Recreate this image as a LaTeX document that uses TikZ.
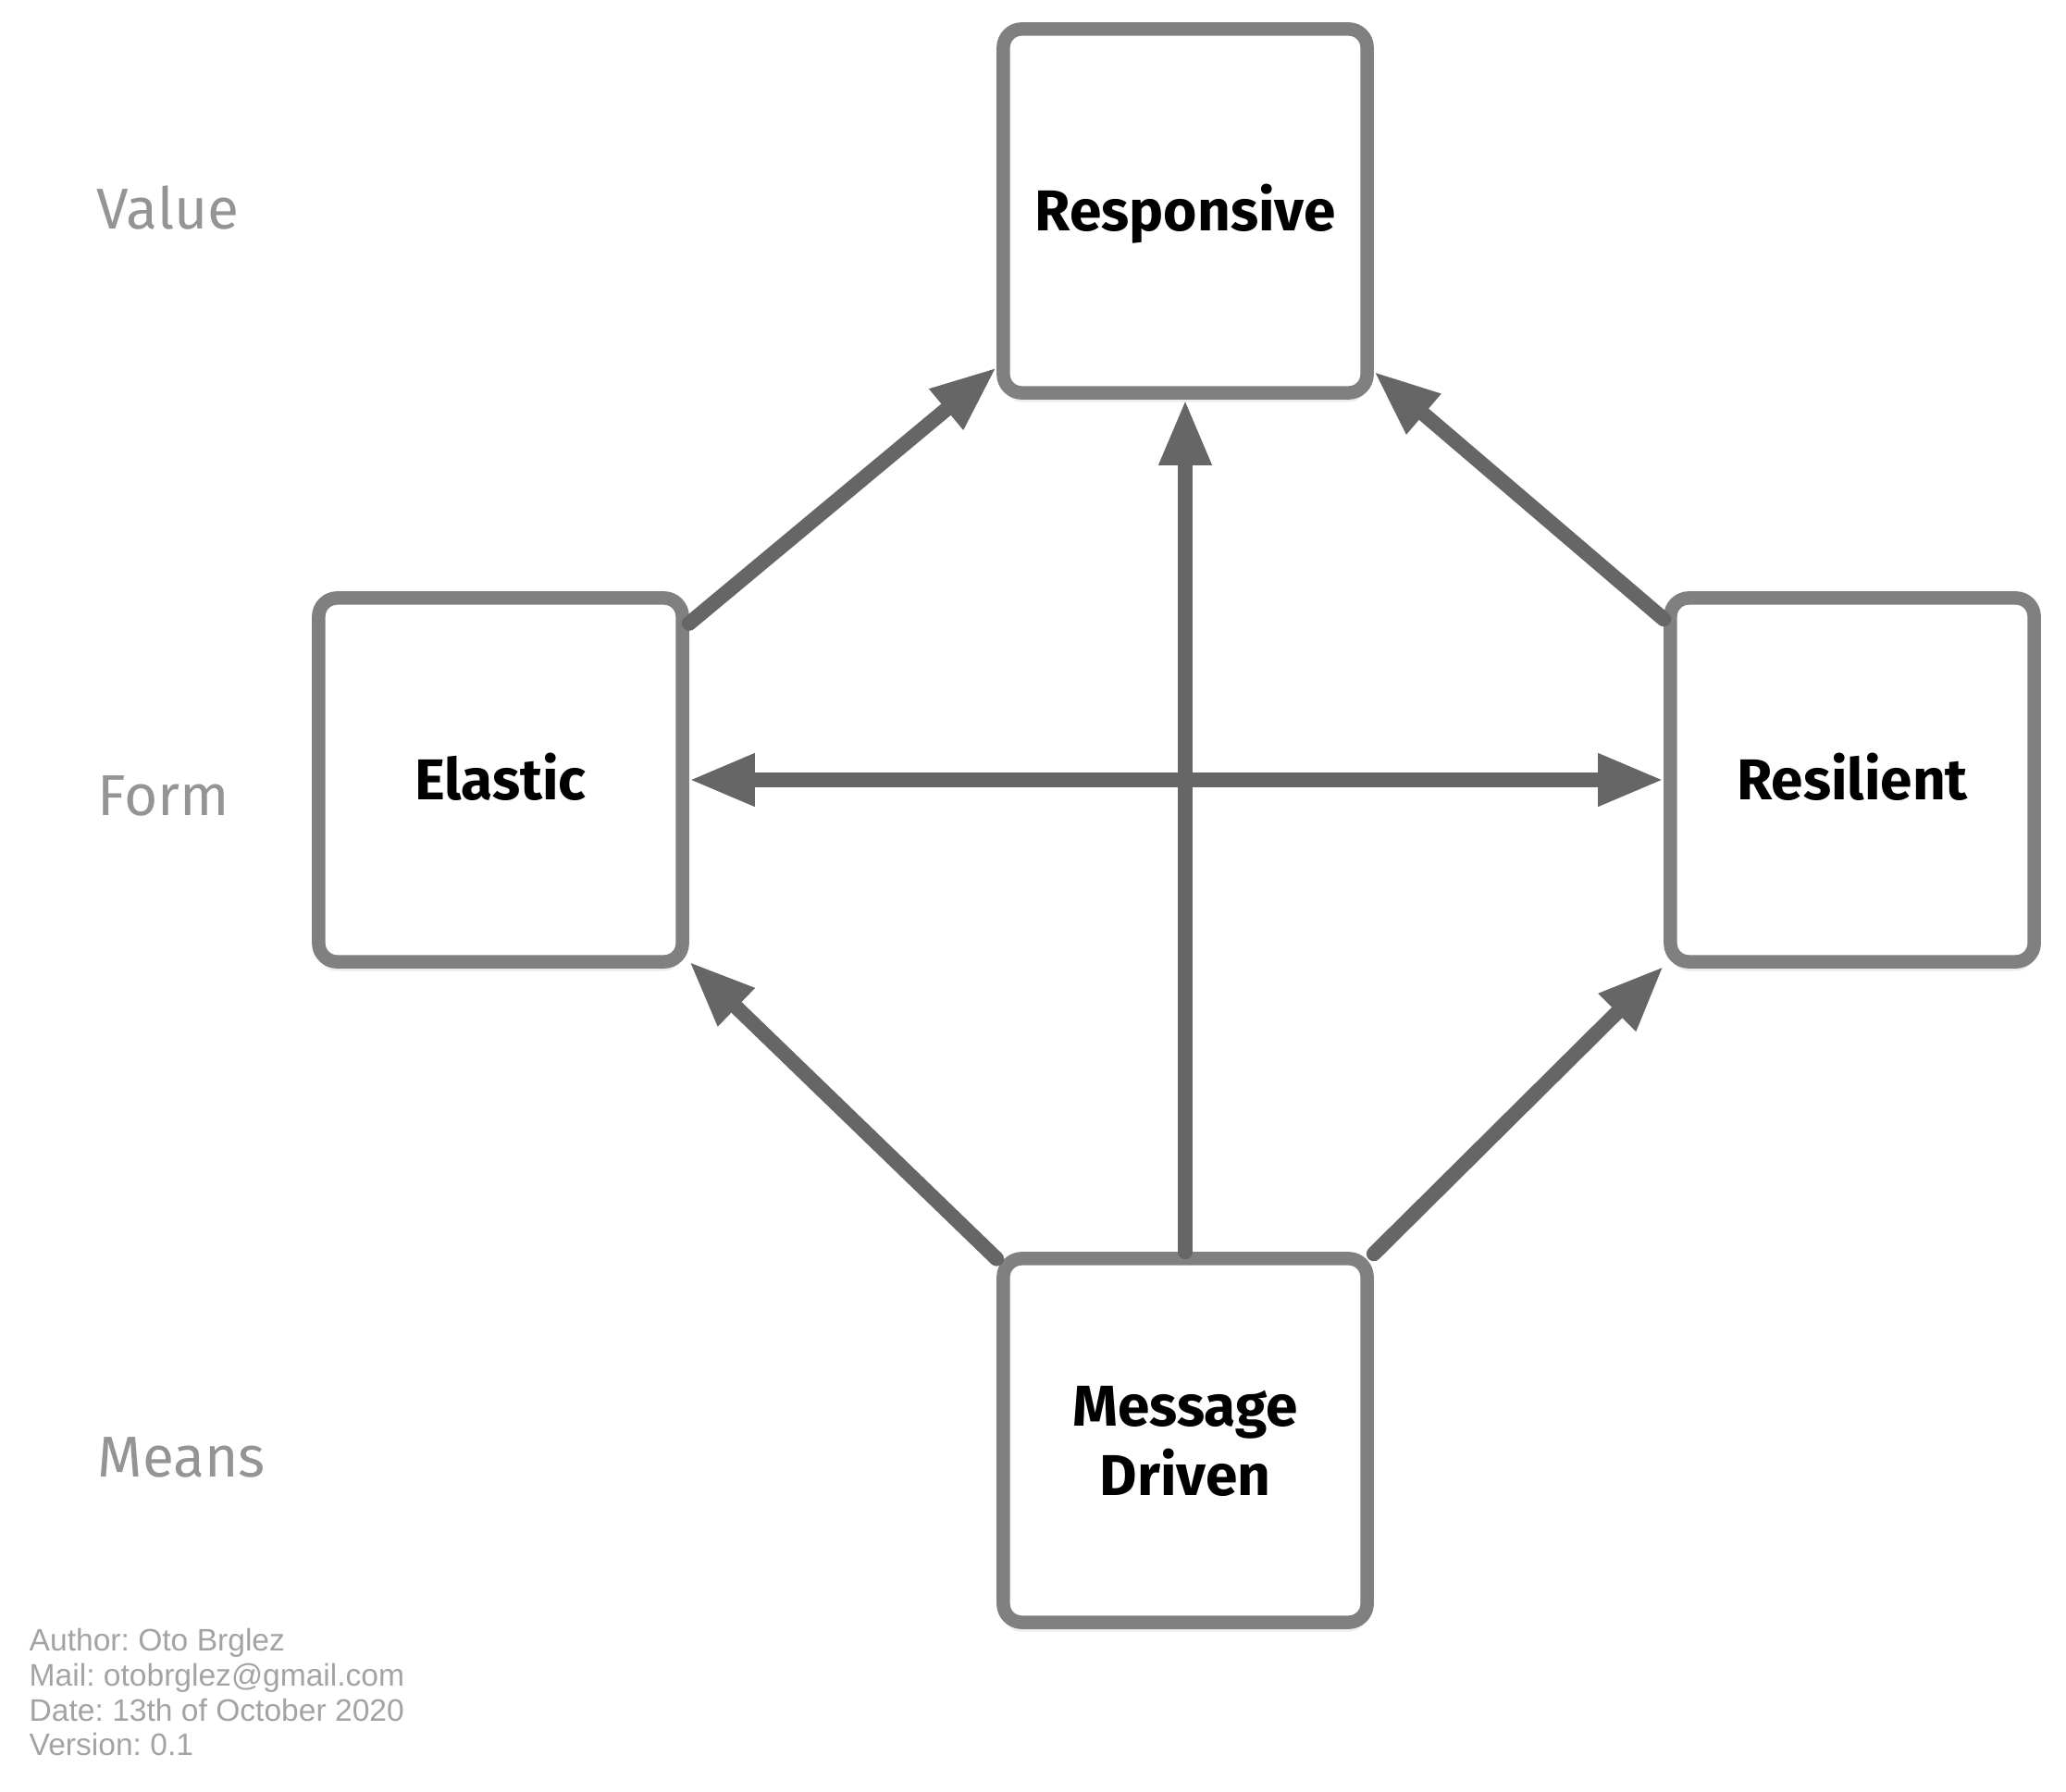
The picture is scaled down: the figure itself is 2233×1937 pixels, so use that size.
\documentclass[tikz,border=0pt]{standalone}
\usepackage{fontspec}
\setmainfont{Fira Sans}
\newfontfamily\notefont{Liberation Sans}
\usetikzlibrary{arrows.meta,shadows}
\frenchspacing
\definecolor{boxgray}{HTML}{808080}
\definecolor{arrowgray}{HTML}{666666}
\definecolor{levelgray}{HTML}{949494}
\definecolor{notegray}{HTML}{A3A3A3}
\tikzset{
  trait/.style={rectangle, rounded corners=0.2cm, draw=boxgray, line width=0.145cm,
    fill=white, minimum size=3.93cm, align=center,
    font=\fontsize{17.7}{21.3}\selectfont\bfseries, text height=0.43cm, text depth=0pt,
    drop shadow={shadow xshift=0pt, shadow yshift=-0.1cm, opacity=0.15}},
  link/.style={draw=arrowgray, line width=0.16cm, line cap=round, ->},
  level/.style={anchor=base west, inner sep=0pt, text=levelgray,
    font=\fontsize{17.7}{21}\selectfont},
  >={Triangle[length=0.71cm, width=0.53cm]},
}
\begin{document}
\begin{tikzpicture}[x=0.01cm, y=-0.01cm]
	\useasboundingbox (0,0) rectangle (2233,1937);
	% levels
	\node[level] (value) at (104,248) {Value};
	\node[level] (form) at (105,882) {Form};
	\node[level] (means) at (105,1596) {Means};
	% traits
	\node[trait] (resp) at (1281,228) {Responsive};
	\node[trait] (el) at (541,843) {Elastic};
	\node[trait] (res) at (2002,843) {Resilient};
	\node[trait, text height=1.18cm] (md) at (1281,1557) {Message\\Driven};
	% links
	\draw[link] (el) -- (resp);
	\draw[link] (res) -- (resp);
	\draw[link] (md) -- (resp);
	\draw[link, <->] (el) -- (res);
	\draw[link] (md) -- (el);
	\draw[link] (md) -- (res);
	% note
	\node[anchor=north west, inner sep=0pt, align=left, text=notegray,
	  font=\notefont\fontsize{9.55}{10.8}\selectfont] (note) at (31,1759)
	  {Author: Oto Brglez\\Mail: otobrglez@gmail.com\\Date: 13th of October 2020\\Version: 0.1};
\end{tikzpicture}
\end{document}
